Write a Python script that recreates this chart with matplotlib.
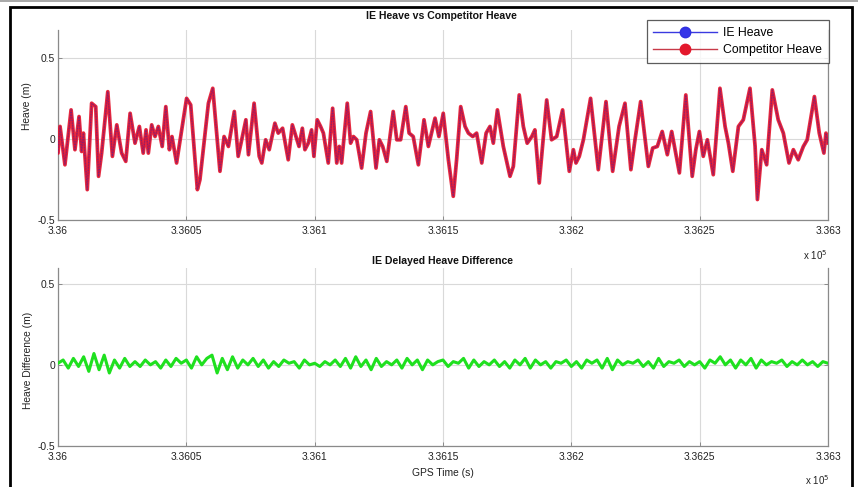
import numpy as np
import matplotlib
matplotlib.use("Agg")
import matplotlib.pyplot as plt
from matplotlib.lines import Line2D
from matplotlib.patches import Rectangle

plt.rcParams['font.family'] = ['Liberation Sans', 'DejaVu Sans']

# ---------------- data ----------------
t0 = 336000.0
# time offsets (s) from t0 and heave values (m)
ie_offsets = [
    0.0, 0.8, 2.7, 5.1, 6.6, 8.2, 9.2, 9.9, 11.4, 13.1, 14.7, 15.8, 17.0, 19.4, 21.2, 22.9,
    24.8, 26.4, 28.1, 30.0, 31.7, 33.2, 34.3, 35.2, 36.5, 37.8, 39.1, 40.6, 42.0, 43.4, 44.4,
    46.2, 50.1, 51.7, 54.3, 55.3, 58.6, 60.3, 63.1, 64.7, 66.4, 68.7, 70.2, 71.3, 73.2, 74.2,
    76.4, 78.4, 79.4, 80.9, 82.3, 84.5, 85.8, 87.5, 89.7, 91.3, 93.9,
    95.2, 96.2, 97.5, 98.8, 99.7, 101.0, 102.3, 103.4, 105.3, 107.0, 108.6, 109.6, 110.5,
    112.7, 114.0, 115.1, 116.4, 118.3, 120.0, 121.8, 123.9, 125.2, 126.5, 128.1, 130.6,
    132.0, 133.5, 135.5, 136.8, 138.4, 140.4, 142.6, 144.3, 146.9, 148.4, 150.1, 152.1,
    154.0, 155.3, 156.9, 158.6, 159.9, 161.6, 163.1, 165.1, 166.8, 168.3, 169.6, 171.2,
    173.5, 176.1, 177.4, 179.7, 181.3, 182.8, 184.6, 185.8, 187.5, 190.4, 192.3, 194.3,
    196.6, 199.2, 200.8,
    201.8, 203.1, 204.7, 207.5, 210.5, 212.1, 213.5, 216.1, 218.6, 220.9, 223.2, 224.8,
    227.0, 230.0, 231.7, 233.5, 235.4, 237.4, 239.1, 242.1, 244.6, 247.1, 248.5, 249.9,
    251.4, 253.0, 255.3, 257.9, 259.9, 261.2, 262.9, 265.1, 267.0, 269.6, 271.6, 272.5,
    274.2, 276.1, 278.3, 280.6, 282.6, 284.8, 286.5, 288.4, 290.4, 291.9, 294.7, 296.6,
    298.4, 299.2, 300.0,
]
ie_heave = [
    -0.088, 0.076, -0.160, 0.178, -0.067, 0.137, -0.078, 0.035, -0.313, 0.219, 0.198, -0.231,
    -0.088, 0.290, -0.108, 0.086, -0.088, -0.139, 0.157, -0.027, 0.076, -0.088, 0.055, -0.088,
    0.086, 0.014, 0.076, -0.047, 0.198, -0.067, 0.014, -0.149, 0.249, 0.209, -0.313, -0.252,
    0.219, 0.311, -0.200, 0.014, -0.047, 0.168, -0.108, -0.027, 0.117, -0.098, 0.219, -0.108,
    -0.149, -0.006, -0.067, 0.096, 0.035, 0.065, -0.129, 0.086, -0.047,
    0.065, -0.067, -0.027, 0.055, -0.108, 0.117, 0.076, 0.035, -0.149, 0.188, -0.149, -0.047,
    -0.149, 0.219, -0.027, 0.014, -0.006, -0.180, 0.035, 0.168, -0.180, -0.006, -0.047,
    -0.139, 0.168, -0.006, -0.006, 0.198, 0.035, 0.014, -0.160, 0.117, -0.047, 0.127, 0.014,
    0.157, -0.129, -0.354, -0.129, 0.198, 0.076, 0.035, 0.014, 0.035, -0.149, 0.035, 0.076,
    -0.027, 0.178, -0.047, -0.231, -0.170, 0.270, 0.076, -0.027, 0.014, 0.055, -0.272, 0.239,
    -0.006, 0.014, 0.178, -0.200, -0.067,
    -0.149, -0.108, -0.006, 0.249, -0.190, 0.035, 0.229, -0.200, 0.076, 0.219, -0.190, -0.006,
    0.229, -0.170, -0.057, -0.047, 0.045, -0.098, 0.045, -0.210, 0.270, -0.231, -0.067, 0.045,
    -0.108, -0.006, -0.221, 0.311, 0.076, -0.027, -0.200, 0.076, 0.117, 0.311, -0.047, -0.374,
    -0.067, -0.160, 0.301, 0.117, 0.035, -0.149, -0.067, -0.129, -0.047, -0.006, 0.260, 0.035,
    -0.088, 0.035, -0.027,
]
competitor_heave = list(ie_heave)

# heave difference, sampled every 2 s
diff_step = 2.0
heave_diff = [
    0.01, 0.03, -0.02, 0.04, -0.01, 0.05, -0.04, 0.07, -0.03, 0.06, -0.05, 0.03, -0.02, 0.04, -0.01,
    0.02, -0.01, 0.03, 0.0, 0.02, -0.02, 0.03, -0.01, 0.04, 0.01, 0.03, -0.02, 0.05, 0.0, 0.04,
    0.06, -0.05, 0.04, -0.03, 0.05, -0.02, 0.03, 0.0, 0.04, -0.01, 0.03, -0.02, 0.02, -0.01, 0.03,
    0.01, 0.02, -0.02, 0.03, 0.0, 0.01, -0.01, 0.02, 0.0, 0.03, -0.01, 0.04, -0.02, 0.05, -0.01,
    0.03, -0.03, 0.04, -0.01, 0.02, 0.0, 0.03, -0.02, 0.04, 0.0, 0.03, -0.03, 0.03, 0.0, 0.02,
    0.03, -0.01, 0.02, 0.01, 0.04, -0.02, 0.03, -0.01, 0.02, 0.0, 0.03, -0.01, 0.02, -0.02, 0.03,
    0.0, 0.04, -0.02, 0.03, 0.0, 0.02, -0.02, 0.02, 0.01, 0.03, -0.01, 0.02, -0.02, 0.03, 0.01,
    0.03, -0.02, 0.04, -0.03, 0.03, 0.0, 0.02, 0.01, 0.03, -0.01, 0.02, -0.02, 0.04, -0.01, 0.02,
    0.01, 0.03, -0.01, 0.02, 0.0, 0.02, -0.02, 0.03, 0.01, 0.05, 0.0, 0.03, -0.02, 0.03, 0.0,
    0.04, -0.02, 0.03, 0.0, 0.02, 0.01, 0.03, -0.01, 0.02, 0.0, 0.03, 0.0, 0.02, -0.01, 0.02, 0.01,
]

xticks = [336000, 336050, 336100, 336150, 336200, 336250, 336300]
yticks = [-0.5, 0, 0.5]

# ---------------- figure ----------------
W, H = 858, 487
fig = plt.figure(figsize=(W / 100, H / 100), dpi=100)
fig.patch.set_facecolor('white')

def fx(px):
    return px / W

def fy(py):
    return 1 - py / H

ax1 = fig.add_axes([fx(58), fy(220), fx(828) - fx(58), fy(30) - fy(220)])
ax2 = fig.add_axes([fx(58), fy(446), fx(828) - fx(58), fy(268) - fy(446)])

t_ie = t0 + np.array(ie_offsets)
ax1.plot(t_ie, ie_heave, color='#2b2bd8', lw=1.2, zorder=3)
ax1.plot(t_ie, competitor_heave, color='#e3142c', lw=2.7, alpha=0.9, zorder=4,
         solid_joinstyle='round', solid_capstyle='round')
ax1.plot(t_ie, ie_heave, color='#4a2c9c', lw=0.8, ls=(0, (1, 1.4)), zorder=5, alpha=0.6)

t_diff = t0 + diff_step * np.arange(len(heave_diff))
ax2.plot(t_diff, heave_diff, color='#1fe01f', lw=2.2, zorder=3)

tick_font = 7.4
for ax, top in ((ax1, 0.67), (ax2, 0.597)):
    ax.set_xlim(xticks[0], xticks[-1])
    ax.set_ylim(-0.5, top)
    ax.set_xticks(xticks)
    ax.set_xticklabels(['%g' % (v / 1e5) for v in xticks])
    ax.set_yticks(yticks)
    ax.set_yticklabels(['-0.5', '0', '0.5'])
    ax.grid(True, color='#d9d9d9', lw=0.8)
    ax.set_axisbelow(True)
    for s in ('left', 'right', 'bottom'):
        ax.spines[s].set_color('#8a8a8a')
        ax.spines[s].set_linewidth(0.9)
    ax.spines['top'].set_visible(False)
    ax.tick_params(direction='in', length=3, width=0.7, color='#8a8a8a',
                   labelsize=tick_font, right=True, pad=4, labelcolor='#222222')
    ax.tick_params(axis='y', pad=2)

# titles and labels
fig.text(fx(441), fy(16), 'IE Heave vs Competitor Heave', ha='center', va='center',
         fontsize=7.6, fontweight='bold', color='#111111')
fig.text(fx(443), fy(261), 'IE Delayed Heave Difference', ha='center', va='center',
         fontsize=7.6, fontweight='bold', color='#111111')
fig.text(fx(27), fy(106), 'Heave (m)', rotation=90, ha='center', va='center',
         fontsize=7.4, color='#222222')
fig.text(fx(28), fy(360), 'Heave Difference (m)', rotation=90, ha='center', va='center',
         fontsize=7.4, color='#222222')
fig.text(fx(443), fy(473), 'GPS Time (s)', ha='center', va='center',
         fontsize=7.4, color='#222222')
fig.text(fx(803), fy(255), r'x 10$^{5}$', ha='left', va='center', fontsize=7.0,
         color='#222222')
fig.text(fx(805), fy(480), r'x 10$^{5}$', ha='left', va='center', fontsize=7.0,
         color='#222222')

# legend
handles = [
    Line2D([], [], color='#3a3ae0', lw=1.0, marker='o', ms=7.5, markeredgecolor='#3030e0',
           markerfacecolor='#3535e8'),
    Line2D([], [], color='#c83a48', lw=1.0, marker='o', ms=7.5, markeredgecolor='#e3182c',
           markerfacecolor='#e3182c'),
]
leg = fig.legend(handles, ['IE Heave', 'Competitor Heave'], loc='upper right',
                 bbox_to_anchor=(fx(828.5), fy(20.5)), fontsize=8.8, frameon=True,
                 fancybox=False, edgecolor='#333333', borderpad=0.55, labelspacing=0.4,
                 handlelength=5.2, handletextpad=0.5, borderaxespad=0.0)
leg.get_frame().set_linewidth(0.9)

# outer frame
fig.patches.append(Rectangle((fx(9.5), -0.05), fx(852) - fx(9.5), fy(7) + 0.05,
                             transform=fig.transFigure, fill=False, edgecolor='black',
                             lw=2.0, zorder=10))
fig.lines.append(Line2D([0, 1], [fy(0.8), fy(0.8)], transform=fig.transFigure,
                        color='#9a9a9a', lw=1.2))

fig.savefig('out.png', dpi=100, facecolor='white')
